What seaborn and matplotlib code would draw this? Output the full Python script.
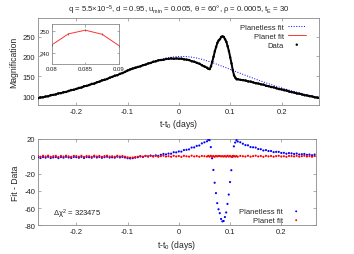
import numpy as np
import matplotlib
matplotlib.use("Agg")
import matplotlib.pyplot as plt
import seaborn as sb

# time from peak (days)
t = np.array([
    -0.275, -0.27, -0.265, -0.26, -0.255, -0.25, -0.245, -0.24, -0.235, -0.23, -0.225, -0.22, -0.215, -0.21, -0.205, -0.2,
    -0.195, -0.19, -0.185, -0.18, -0.175, -0.17, -0.165, -0.16, -0.155, -0.15, -0.145, -0.14, -0.135, -0.13, -0.125, -0.12, -0.115, -0.11, -0.105,
    -0.1, -0.095, -0.09, -0.085, -0.08, -0.075, -0.07, -0.065, -0.06, -0.055, -0.05,
    -0.045, -0.04, -0.035, -0.03, -0.025, -0.02, -0.015, -0.01, -0.005, 0.0, 0.005, 0.01, 0.015, 0.02, 0.025, 0.03, 0.035, 0.04, 0.045, 0.05, 0.055,
    0.0575, 0.06, 0.0625, 0.065, 0.0675, 0.07, 0.0725, 0.075, 0.0775, 0.08, 0.0825, 0.085, 0.0875, 0.09, 0.0925, 0.095, 0.0975, 0.1, 0.1025, 0.105, 0.1075, 0.11, 0.1125,
    0.115, 0.12, 0.125, 0.13, 0.135, 0.14, 0.145, 0.15, 0.155, 0.16, 0.165, 0.17, 0.175, 0.18, 0.185, 0.19, 0.195, 0.2, 0.205, 0.21, 0.215, 0.22, 0.225, 0.23, 0.235, 0.24, 0.245, 0.25, 0.255, 0.26, 0.265, 0.27, 0.275,
])

# planetless (point-lens) fit magnification
planetless = np.array([
    94.2, 95.5, 96.9, 98.3, 99.7, 101.1, 102.6, 104.1, 105.7, 107.3, 108.9, 110.6, 112.3, 114.1, 115.9, 117.7,
    119.6, 121.5, 123.5, 125.5, 127.5, 129.6, 131.7, 133.9, 136.2, 138.4, 140.7, 143.1, 145.4, 147.8, 150.3, 152.7, 155.2, 157.7, 160.2,
    162.8, 165.3, 167.8, 170.3, 172.7, 175.1, 177.5, 179.9, 182.3, 184.6, 186.9,
    189.0, 190.9, 192.8, 194.4, 196.0, 197.2, 198.2, 199.0, 199.6, 199.9, 200.0, 199.9, 199.6, 199.0, 198.2, 197.2, 196.0, 194.4, 192.8, 190.9, 189.0,
    188.0, 187.0, 185.9, 184.8, 183.6, 182.4, 181.2, 180.0, 178.8, 177.6, 176.4, 175.1, 173.9, 172.7, 171.5, 170.3, 169.0, 167.8, 166.5, 165.3, 164.0, 162.8, 161.5,
    160.2, 157.7, 155.2, 152.7, 150.3, 147.8, 145.4, 143.1, 140.7, 138.4, 136.2, 133.9, 131.7, 129.6, 127.5, 125.5, 123.5, 121.5, 119.6, 117.7, 115.9, 114.1, 112.3, 110.6, 108.9, 107.3, 105.7, 104.1, 102.6, 101.1, 99.7, 98.3, 96.9,
])

# planetless fit minus planet fit
model_diff = np.array([
    -1.5, -1.5, -1.5, -1.4, -1.4, -1.4, -1.4, -1.4, -1.3, -1.3, -1.3, -1.3, -1.3, -1.3, -1.3, -1.3,
    -1.3, -1.3, -1.3, -1.2, -1.2, -1.2, -1.2, -1.2, -1.2, -1.2, -1.2, -1.2, -1.2, -1.2, -1.1, -1.1, -1.1, -1.1, -1.0,
    -1.0, -0.9, -0.8, -0.7, -0.6, -0.5, -0.4, -0.2, 0.0, 0.2, 0.4,
    0.7, 1.1, 1.5, 2.0, 2.5, 3.0, 3.5, 4.1, 4.7, 5.3, 6.0, 6.7, 7.5, 8.4, 9.4, 10.5, 11.7, 13.0, 14.5, 16.0, 17.6,
    18.6, 19.0, 10.0, -2.0, -16.0, -30.0, -43.0, -54.0, -61.6, -66.0, -72.4, -75.4, -74.7, -70.6, -64.5, -55.7, -44.0, -30.2, -15.5, -0.7, 11.0, 16.3, 18.3,
    17.6, 15.8, 14.4, 13.2, 12.1, 11.1, 10.2, 9.4, 8.6, 7.9, 7.3, 6.7, 6.2, 5.7, 5.3, 4.9, 4.5, 4.2, 3.9, 3.6, 3.3, 3.1, 2.9, 2.7, 2.5, 2.3, 2.1, 2.0, 1.8, 1.7, 1.6, 1.5, 1.4,
])

# planet fit minus data
res_planet = np.array([
    0.3, -0.5, 0.6, -0.2, 0.8, -0.6, 0.1, 0.5, -0.8, 0.4, -0.3, 0.7, -0.1, -0.6, 0.5, 0.2,
    -0.4, 0.6, -0.7, 0.3, 0.1, -0.5, 0.8, -0.2, 0.4, -0.6, 0.2, 0.7, -0.3, 0.0, -0.5, 0.6, -0.2, 0.3, -0.4,
    -1.2, -1.6, -1.4, -0.9, -0.5, 0.3, -0.4, 0.5, -0.2, 0.6, -0.3,
    0.4, -0.6, 0.2, 0.7, -0.3, 0.1, -0.5, 0.6, -0.2, 0.3, -0.6, 0.5, 0.0, -0.4, 0.7, -0.2, 0.3, -0.5, 0.4, 0.1, -0.3,
    0.5, -0.4, 0.6, -0.3, 0.2, -0.6, 0.4, -0.2, 0.3, 0.2, -0.1, 0.1, -0.2, 0.3, -0.5, 0.6, -0.3, 0.4, -0.6, 0.2, 0.5, -0.4, 0.3,
    -0.5, 0.4, 0.1, -0.3, 0.6, -0.4, 0.2, 0.7, -0.2, 0.3, -0.6, 0.5, -0.1, 0.4, -0.5, 0.2, 0.6, -0.3, 0.1, -0.6, 0.4, 0.3, -0.2, 0.5, -0.4, 0.1, 0.6, -0.3, 0.2, -0.5, 0.4, -0.1, 0.3,
])

planet_fit = planetless - model_diff
data = planet_fit - res_planet
res_planetless = planetless - data

xticks = [-0.2, -0.1, 0, 0.1, 0.2]
xticklabels = ["-0.2", "-0.1", "0", "0.1", "0.2"]
title = (r"q = 5.5$\times$10$^{-5}$, d = 0.95, u$_{min}$ = 0.005, θ = 60°, "
         r"ρ = 0.0005, t$_{E}$ = 30")

sb.set_style("ticks")
plt.rcParams['font.family'] = ['Liberation Sans', 'DejaVu Sans']
plt.rcParams['mathtext.fontset'] = 'custom'
plt.rcParams['mathtext.rm'] = 'Liberation Sans'
plt.rcParams['mathtext.default'] = 'regular'
plt.rcParams['axes.unicode_minus'] = False

frame_col = '#8a8a8a'


def style_axes(ax, fs=5.5):
    for s in ax.spines.values():
        s.set_color(frame_col)
        s.set_linewidth(0.6)
        s.set_visible(True)
    ax.tick_params(direction='in', top=True, right=True, length=2.5, width=0.5,
                   color=frame_col, labelsize=fs, pad=2, labelcolor='#222222')


fig = plt.figure(figsize=(3.54, 2.55), dpi=100)
ax1 = fig.add_axes([0.107, 0.585, 0.794, 0.34])
ax2 = fig.add_axes([0.107, 0.112, 0.786, 0.339])

# top panel: light curve
sb.lineplot(x=t, y=planetless, ax=ax1, color='blue', lw=0.7, linestyle=':', label='Planetless fit', zorder=2)
sb.lineplot(x=t, y=planet_fit, ax=ax1, color='#ff3333', lw=0.7, label='Planet fit', zorder=3)
sb.lineplot(x=t, y=data, ax=ax1, color='black', lw=1.4, zorder=4)
sb.scatterplot(x=t, y=data, ax=ax1, color='black', s=3, edgecolor='none', label='Data', zorder=5)
ax1.set_xlim(-0.275, 0.273)
ax1.set_ylim(79, 296)
ax1.set_xticks(xticks)
ax1.set_xticklabels(xticklabels)
ax1.set_yticks([100, 150, 200, 250])
ax1.set_xlabel(r"t-t$_0$ (days)", fontsize=6.2, labelpad=2)
ax1.set_ylabel("Magnification", fontsize=6.2, labelpad=3)
ax1.set_title(title, fontsize=5.6, pad=5)
style_axes(ax1)
ax1.legend(loc='upper right', bbox_to_anchor=(0.97, 0.99), markerfirst=False, frameon=False,
           fontsize=5.5, handlelength=2.4, handletextpad=0.5, labelspacing=0.2,
           borderaxespad=0.2)

# inset around the planetary peak
axin = fig.add_axes([0.146, 0.745, 0.190, 0.157])
win = (t >= 0.075) & (t <= 0.095)
sb.lineplot(x=t[win], y=planet_fit[win], ax=axin, color='#ff3333', lw=0.7, legend=False)
axin.scatter(t[win], data[win], marker='|', s=4, color='#555555', linewidths=0.5, zorder=5)
axin.set_xlim(0.08, 0.09)
axin.set_ylim(234.7, 253.4)
axin.set_xticks([0.08, 0.085, 0.09])
axin.set_xticklabels(["0.08", "0.085", "0.09"])
axin.set_yticks([240, 250])
style_axes(axin, fs=4.3)
axin.tick_params(length=1.8, pad=1.5)
axin.set_facecolor('white')

# bottom panel: residuals
sb.scatterplot(x=t, y=res_planetless, ax=ax2, color='blue', s=2.4, edgecolor='none', label='Planetless fit', zorder=3)
sb.scatterplot(x=t, y=res_planet, ax=ax2, color='red', s=2.4, edgecolor='none', label='Planet fit', zorder=4)
ax2.set_xlim(-0.275, 0.268)
ax2.set_ylim(-80, 20)
ax2.set_xticks(xticks)
ax2.set_xticklabels(xticklabels)
ax2.set_yticks([20, 0, -20, -40, -60, -80])
ax2.set_xlabel(r"t-t$_0$ (days)", fontsize=6.2, labelpad=2)
ax2.set_ylabel("Fit - Data", fontsize=6.2, labelpad=3)
style_axes(ax2)
ax2.text(0.055, 0.14, r"Δχ$^{2}$ = 323475", transform=ax2.transAxes, fontsize=5.5,
         va='center', ha='left', color='#222222')
ax2.legend(loc='lower right', bbox_to_anchor=(0.975, -0.03), markerfirst=False, frameon=False,
           fontsize=5.5, handlelength=2.4, handletextpad=0.5, labelspacing=0.2,
           borderaxespad=0.1, markerscale=0.9)

fig.savefig("out.png", dpi=100)
